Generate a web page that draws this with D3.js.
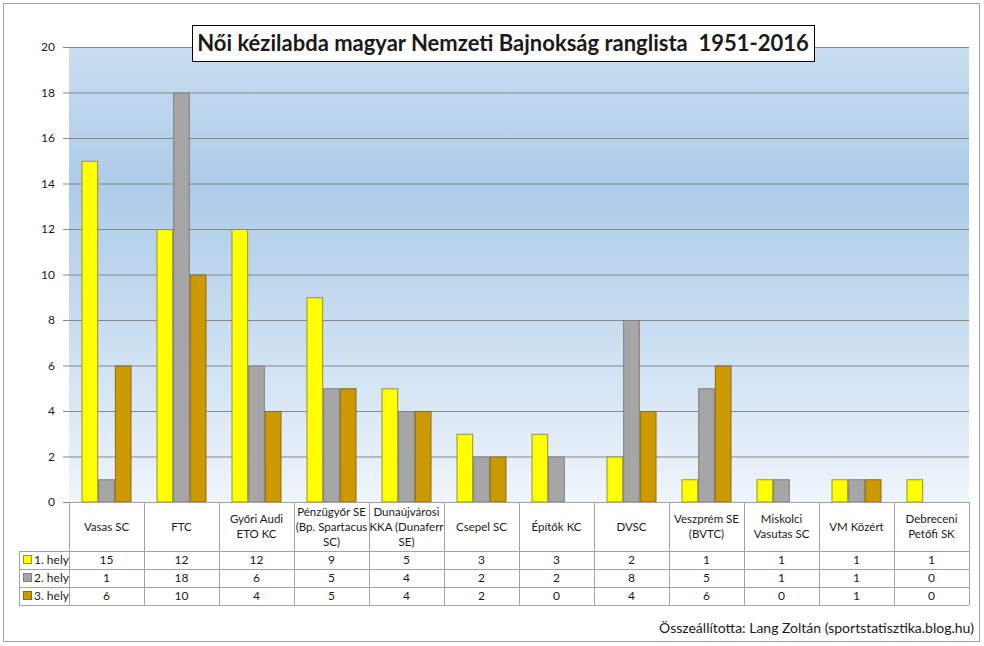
<!DOCTYPE html>
<html>
<head>
<meta charset="utf-8">
<script src="https://cdn.jsdelivr.net/npm/d3@7"></script>
<style>
  body { margin: 0; background: #fff; }
  svg text { font-family: Lato, "Open Sans", sans-serif; fill: #1a1a1a; }
</style>
</head>
<body>
<script>
const categories = ['Vasas SC', 'FTC', 'Győri Audi\nETO KC', 'Pénzügyőr SE\n(Bp. Spartacus\nSC)',
    'Dunaújvárosi\nKKA (Dunaferr\nSE)', 'Csepel SC', 'Építők KC', 'DVSC', 'Veszprém SE\n(BVTC)',
    'Miskolci\nVasutas SC', 'VM Közért', 'Debreceni\nPetőfi SK'];
const seriesNames = ['1. hely', '2. hely', '3. hely'];
const first = [15, 12, 12, 9, 5, 3, 3, 2, 1, 1, 1, 1];
const second = [1, 18, 6, 5, 4, 2, 2, 8, 5, 1, 1, 0];
const third = [6, 10, 4, 5, 4, 2, 0, 4, 6, 0, 1, 0];
const yTicks = [0, 2, 4, 6, 8, 10, 12, 14, 16, 18, 20];
const title = 'Női kézilabda magyar Nemzeti Bajnokság ranglista  1951-2016';
const credit = 'Összeállította: Lang Zoltán (sportstatisztika.blog.hu)';

const fills = ['#ffff00', '#a6a6a6', '#cc9900'],
    strokes = ['#9a9426', '#7f7f7f', '#8c6a10'];
const values = [first, second, third];

const W = 984, H = 646;
const plot = {left: 69, right: 969, top: 47, bottom: 502};
const rowH = [49, 18, 18, 18];

const svg = d3.select('body').append('svg')
    .attr('width', W)
    .attr('height', H);

// outer frame
svg.append('rect')
    .attr('x', 3.5).attr('y', 3.5)
    .attr('width', 976).attr('height', 638)
    .attr('fill', '#fff')
    .attr('stroke', '#a0a0a0');

const grad = svg.append('defs').append('linearGradient')
    .attr('id', 'bg')
    .attr('x1', 0).attr('y1', 0).attr('x2', 0).attr('y2', 1);
[[0, '#c9def1'], [0.3, '#adcce9'], [0.55, '#c2d9ef'], [1, '#eff5fb']].forEach(s =>
    grad.append('stop').attr('offset', s[0]).attr('stop-color', s[1]));

const x = d3.scaleBand().domain(d3.range(categories.length)).range([plot.left, plot.right]);
const x1 = d3.scaleBand().domain(d3.range(3)).range([12.5, 62.5]);
const y = d3.scaleLinear().domain([0, 20]).range([plot.bottom, plot.top]);

svg.append('rect')
    .attr('x', plot.left).attr('y', plot.top)
    .attr('width', plot.right - plot.left).attr('height', plot.bottom - plot.top)
    .attr('fill', 'url(#bg)');

// gridlines + y labels
const yAxis = svg.append('g')
    .attr('transform', `translate(${plot.left},0)`)
    .call(d3.axisLeft(y).tickValues(yTicks).tickSize(6).tickPadding(8).tickFormat(d3.format('d')));
yAxis.select('.domain').remove();
yAxis.selectAll('.tick line').attr('stroke', '#878787');
yAxis.selectAll('.tick text').attr('font-size', 12).attr('font-family', 'Lato, sans-serif').attr('fill', '#1a1a1a');
yAxis.selectAll('.tick').filter(d => d > 0).append('line')
    .attr('x2', plot.right - plot.left)
    .attr('stroke', '#878787');

// bars
const groups = svg.append('g').selectAll('g')
    .data(categories)
    .join('g')
    .attr('transform', (d, i) => `translate(${x(i)},0)`);
groups.selectAll('rect')
    .data((d, i) => values.map((v, s) => ({s, v: v[i]})).filter(e => e.v > 0))
    .join('rect')
    .attr('x', d => x1(d.s) + 0.5)
    .attr('y', d => y(d.v) + 0.5)
    .attr('width', x1.bandwidth() - 1)
    .attr('height', d => y(0) - y(d.v) - 0.5)
    .attr('fill', d => fills[d.s])
    .attr('stroke', d => strokes[d.s])
    .attr('stroke-width', 1);

// data table
const tbl = svg.append('g').attr('class', 'table');
const rowY = [plot.bottom];
rowH.forEach(h => rowY.push(rowY[rowY.length - 1] + h));
const lineColor = '#a3a3a3';
const legendLeft = 19;

// horizontal lines
rowY.forEach((yy, i) => {
    tbl.append('line')
        .attr('x1', i === 0 ? plot.left : legendLeft).attr('x2', plot.right)
        .attr('y1', yy + 0.5).attr('y2', yy + 0.5)
        .attr('stroke', lineColor);
});
// vertical lines
d3.range(categories.length + 1).forEach(i => {
    const xx = i < categories.length ? x(i) : plot.right;
    tbl.append('line')
        .attr('x1', xx + 0.5).attr('x2', xx + 0.5)
        .attr('y1', plot.bottom).attr('y2', rowY[4])
        .attr('stroke', lineColor);
});
tbl.append('line')
    .attr('x1', legendLeft + 0.5).attr('x2', legendLeft + 0.5)
    .attr('y1', rowY[1]).attr('y2', rowY[4])
    .attr('stroke', lineColor);

// header texts
categories.forEach((c, i) => {
    const lines = c.split('\n');
    const cy = (rowY[0] + rowY[1]) / 2;
    const t = tbl.append('text')
        .attr('text-anchor', 'middle')
        .attr('font-size', 11.5);
    lines.forEach((l, j) => {
        t.append('tspan')
            .attr('x', x(i) + x.bandwidth() / 2)
            .attr('y', cy + (j - (lines.length - 1) / 2) * 15 + 4)
            .text(l);
    });
});

// series rows
seriesNames.forEach((name, s) => {
    const cy = (rowY[s + 1] + rowY[s + 2]) / 2;
    tbl.append('rect')
        .attr('x', 23.5).attr('y', cy - 4.5)
        .attr('width', 8).attr('height', 8)
        .attr('fill', fills[s]).attr('stroke', strokes[s]);
    tbl.append('text')
        .attr('x', 34).attr('y', cy + 4)
        .attr('font-size', 12)
        .text(name);
    values[s].forEach((v, i) => {
        tbl.append('text')
            .attr('x', x(i) + x.bandwidth() / 2)
            .attr('y', cy + 4)
            .attr('text-anchor', 'middle')
            .attr('font-size', 12)
            .text(v);
    });
});

// title
const titleG = svg.append('g');
titleG.append('rect')
    .attr('x', 192.5).attr('y', 25.5)
    .attr('width', 622).attr('height', 36)
    .attr('fill', '#fff')
    .attr('stroke', '#000');
titleG.append('text')
    .attr('x', 503).attr('y', 51)
    .attr('text-anchor', 'middle')
    .attr('font-size', 22)
    .attr('font-weight', 'bold')
    .attr('fill', '#000')
    .style('white-space', 'pre')
    .text(title);

// credit
svg.append('text')
    .attr('x', 974).attr('y', 633)
    .attr('text-anchor', 'end')
    .attr('font-size', 14)
    .text(credit);
</script>
</body>
</html>
